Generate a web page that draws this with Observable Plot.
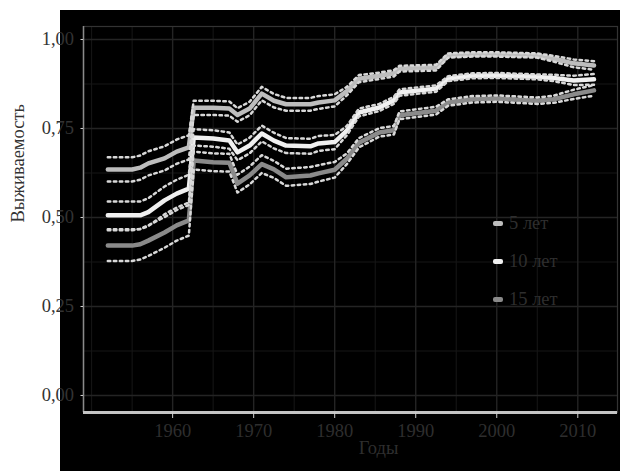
<!DOCTYPE html>
<html>
<head>
<meta charset="utf-8">
<script src="https://cdn.jsdelivr.net/npm/d3@7"></script>
<script src="https://cdn.jsdelivr.net/npm/@observablehq/plot@0.6"></script>
<style>
  html, body { margin: 0; padding: 0; background: #fff; }
  #wrap { position: relative; width: 620px; height: 471px; background: #fff; overflow: hidden; font-family: "Liberation Serif", "DejaVu Serif", serif; }
  #bg { position: absolute; left: 60px; top: 10px; right: 0; bottom: 0; background: #000; }
  #chart { position: absolute; left: 0; top: 0; }
  .leg { position: absolute; left: 493px; height: 20px; }
  .sw { position: absolute; left: 0; top: 7px; width: 10px; height: 5px; border-radius: 2px; }
  .lt { position: absolute; left: 16px; top: -2px; font-size: 18.5px; color: #2e2e2e; white-space: nowrap; line-height: 22px; }
</style>
</head>
<body>
<div id="wrap">
  <div id="bg"></div>
  <div id="chart"></div>
  <div id="legend"></div>
</div>
<script>
// ---- data ----
const seriesNames = ["5 лет", "10 лет", "15 лет"];
const years = [1952, 1955, 1956, 1957, 1959, 1960.5, 1962, 1962.6, 1965, 1967, 1968, 1969.5, 1971, 1972.5, 1974, 1977, 1978, 1980, 1981.5, 1983, 1985.5, 1987.3, 1988, 1992.5, 1994, 1997, 2000, 2005, 2007, 2009.5, 2012];
const surv5  = [0.635, 0.635, 0.640, 0.652, 0.666, 0.685, 0.697, 0.808, 0.808, 0.806, 0.788, 0.806, 0.848, 0.828, 0.818, 0.818, 0.823, 0.829, 0.855, 0.890, 0.898, 0.905, 0.918, 0.921, 0.955, 0.958, 0.958, 0.955, 0.946, 0.933, 0.927];
const surv10 = [0.506, 0.506, 0.506, 0.515, 0.548, 0.567, 0.581, 0.725, 0.722, 0.716, 0.683, 0.702, 0.736, 0.716, 0.702, 0.700, 0.708, 0.712, 0.744, 0.795, 0.809, 0.829, 0.851, 0.862, 0.890, 0.898, 0.899, 0.895, 0.892, 0.885, 0.888];
const surv15 = [0.421, 0.421, 0.425, 0.435, 0.458, 0.478, 0.492, 0.660, 0.655, 0.654, 0.595, 0.618, 0.650, 0.635, 0.613, 0.618, 0.624, 0.634, 0.665, 0.710, 0.739, 0.745, 0.787, 0.800, 0.823, 0.832, 0.834, 0.828, 0.832, 0.846, 0.857];
// half-widths of the dotted confidence bands
const ci5  = [0.034, 0.034, 0.034, 0.034, 0.034, 0.034, 0.034, 0.020, 0.020, 0.020, 0.019, 0.019, 0.019, 0.019, 0.018, 0.018, 0.018, 0.017, 0.012, 0.010, 0.009, 0.009, 0.008, 0.008, 0.006, 0.006, 0.006, 0.006, 0.008, 0.011, 0.012];
const ci10 = [0.039, 0.039, 0.039, 0.039, 0.039, 0.039, 0.039, 0.023, 0.023, 0.023, 0.022, 0.022, 0.022, 0.022, 0.021, 0.021, 0.021, 0.020, 0.013, 0.011, 0.010, 0.010, 0.009, 0.009, 0.007, 0.007, 0.007, 0.007, 0.009, 0.013, 0.015];
const ci15 = [0.043, 0.043, 0.043, 0.043, 0.043, 0.043, 0.043, 0.025, 0.025, 0.025, 0.025, 0.025, 0.025, 0.024, 0.024, 0.024, 0.023, 0.022, 0.015, 0.013, 0.012, 0.012, 0.011, 0.011, 0.009, 0.009, 0.009, 0.009, 0.010, 0.013, 0.015];
const yTicks = [0, 0.25, 0.5, 0.75, 1];
const yMinor = [0.125, 0.375, 0.625, 0.875];
const xTicks = [1960, 1970, 1980, 1990, 2000, 2010];
const xMinor = [1950, 1955, 1965, 1975, 1985, 1995, 2005];
const xTitle = "Годы";
const yTitle = "Выживаемость";

// ---- styles ----
const colors = ["#bdbdbd", "#f0f0f0", "#8a8a8a"];
const xDomain = [1949, 2014.9];
const yDomain = [-0.0478, 1.0365];

const vals = [surv5, surv10, surv15];
const cis = [ci5, ci10, ci15];
const rows = seriesNames.flatMap((name, i) => years.map((yr, j) => ({
  year: yr, series: name, v: vals[i][j], lo: vals[i][j] - cis[i][j], hi: vals[i][j] + cis[i][j]
})));

const fmt = d => d.toFixed(2).replace(".", ",");

const chart = Plot.plot({
  width: 620,
  height: 471,
  marginLeft: 83,
  marginRight: 3,
  marginTop: 26,
  marginBottom: 59,
  style: { background: "transparent", fontFamily: "'Liberation Serif', 'DejaVu Serif', serif", fontSize: "18.5px", overflow: "visible" },
  x: { domain: xDomain, label: null },
  y: { domain: yDomain, label: null },
  color: { domain: seriesNames, range: colors },
  marks: [
    Plot.gridY(yMinor, { stroke: "#171717", strokeOpacity: 1, strokeWidth: 1 }),
    Plot.gridX(xMinor, { stroke: "#171717", strokeOpacity: 1, strokeWidth: 1 }),
    Plot.gridY(yTicks, { stroke: "#242424", strokeOpacity: 1, strokeWidth: 1.4 }),
    Plot.gridX(xTicks, { stroke: "#242424", strokeOpacity: 1, strokeWidth: 1.4 }),
    Plot.frame({ stroke: "#333", strokeWidth: 1.2 }),
    Plot.ruleX([xDomain[0]], { stroke: "#8a8a8a", strokeWidth: 1.5 }),
    Plot.ruleY([yDomain[0]], { stroke: "#c4c4c4", strokeWidth: 3 }),
    Plot.line(rows, { x: "year", y: "v", z: "series", stroke: "series", strokeWidth: 4.5, curve: "linear" }),
    Plot.line(rows, { x: "year", y: "hi", z: "series", stroke: "#d8d8d8", strokeWidth: 2.5, strokeDasharray: "2.5,3.5" }),
    Plot.line(rows, { x: "year", y: "lo", z: "series", stroke: "#d8d8d8", strokeWidth: 2.5, strokeDasharray: "2.5,3.5" }),
    Plot.axisY(yTicks, { tickFormat: fmt, tickSize: 2.5, tickPadding: 7, stroke: "#d0d0d0", fill: "#333", label: null }),
    Plot.axisX(xTicks, { tickFormat: d => String(d), tickSize: 6, tickPadding: 5, stroke: "#d0d0d0", fill: "#2e2e2e", label: null }),
    Plot.text([xTitle], { frameAnchor: "bottom", dx: 28, dy: 41, fill: "#2e2e2e", fontSize: 18.5 }),
    Plot.text([yTitle], { frameAnchor: "left", rotate: -90, dx: -65, dy: 3, fill: "#333", fontSize: 18.5 })
  ]
});
document.getElementById("chart").appendChild(chart);

// legend (inside the panel)
const legendTops = [224, 262, 300];
const legend = document.getElementById("legend");
seriesNames.forEach((name, i) => {
  const item = document.createElement("div");
  item.className = "leg";
  item.style.top = (legendTops[i] - 10) + "px";
  item.innerHTML = `<div class="sw" style="background:${colors[i]}"></div><div class="lt">${name}</div>`;
  legend.appendChild(item);
});
</script>
</body>
</html>
